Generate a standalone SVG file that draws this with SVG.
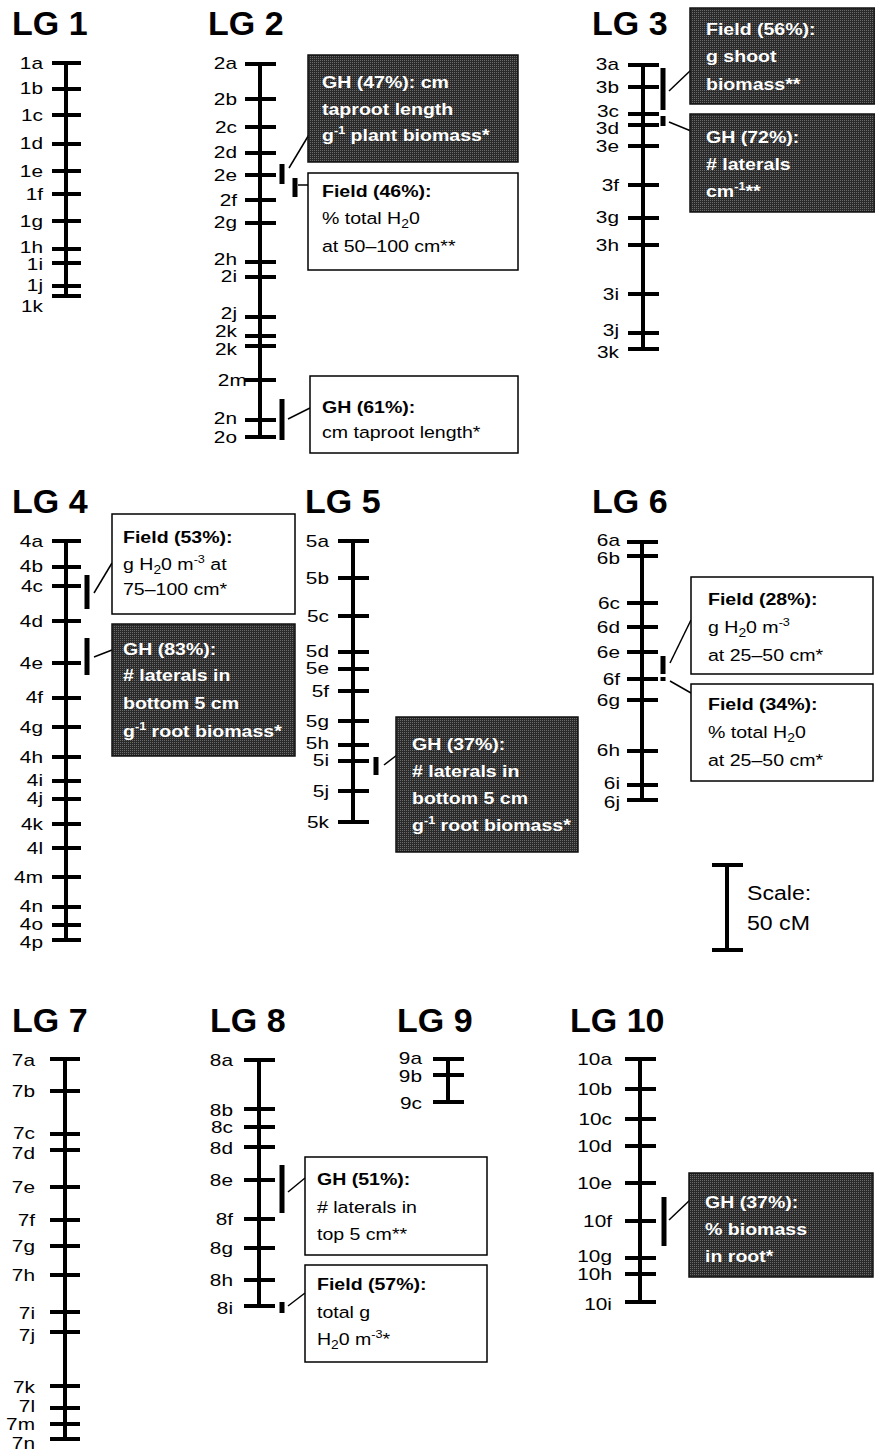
<svg xmlns="http://www.w3.org/2000/svg" width="875" height="1450" viewBox="0 0 875 1450">
<defs>
<pattern id="dith" width="2" height="2" patternUnits="userSpaceOnUse">
<rect width="2" height="2" fill="#2a2a2a"/>
<rect width="1" height="1" fill="#6a6a6a"/>
</pattern>
<style>
.ax{stroke:#000;stroke-width:4;fill:none}
.tk{stroke:#000;stroke-width:4;fill:none}
.q{fill:#000}
.ttl{font-family:"Liberation Sans",Arial,sans-serif;font-weight:bold;font-size:34px;fill:#000}
.lbl{font-family:"Liberation Sans",Arial,sans-serif;font-size:16px;text-anchor:end;fill:#000}
.bw{fill:#fff;stroke:#000;stroke-width:1.5}
.bd{fill:url(#dith);stroke:#111;stroke-width:1.5}
.tw{font-family:"Liberation Sans",Arial,sans-serif;font-size:17px;fill:#000}
.td{font-family:"Liberation Sans",Arial,sans-serif;font-size:17px;font-weight:bold;fill:#fff}
.b{font-weight:bold}
.cn{stroke:#000;stroke-width:1.5;fill:none}
.sc{font-family:"Liberation Sans",Arial,sans-serif;font-size:21px;fill:#000}
</style>
</defs>
<rect width="875" height="1450" fill="#fff"/>

<g id="LG1">
<text class="ttl" x="12" y="35">LG 1</text>
<path class="ax" d="M66 63V296"/>
<path class="tk" d="M52 63H81M52 89H81M52 115H81M52 144H81M52 171H81M52 194H81M52 221H81M52 249H81M52 263H81M52 286H81M52 296H81"/>
<g class="lbl" transform="translate(43,0) scale(1.3,1)">
<text x="0" y="69">1a</text><text x="0" y="94">1b</text><text x="0" y="121">1c</text><text x="0" y="149">1d</text><text x="0" y="177">1e</text><text x="0" y="200">1f</text><text x="0" y="227">1g</text><text x="0" y="253">1h</text><text x="0" y="270">1i</text><text x="0" y="291">1j</text><text x="0" y="312">1k</text>
</g>
</g>

<g id="LG2">
<text class="ttl" x="208" y="35">LG 2</text>
<path class="ax" d="M260 64V437"/>
<path class="tk" d="M245 64H276M245 99H276M245 127H276M245 153H276M245 175H276M245 200H276M245 223H276M245 262H276M245 277H276M245 317H276M245 336H276M245 346H276M245 380H276M245 420H276M245 437H276"/>
<g class="lbl" transform="translate(237,0) scale(1.3,1)">
<text x="0" y="69">2a</text><text x="0" y="105">2b</text><text x="0" y="133">2c</text><text x="0" y="158">2d</text><text x="0" y="181">2e</text><text x="0" y="206">2f</text><text x="0" y="228">2g</text><text x="0" y="265">2h</text><text x="0" y="282">2i</text><text x="0" y="319">2j</text><text x="0" y="337">2k</text><text x="0" y="355">2k</text><text x="7.5" y="386">2m</text><text x="0" y="424">2n</text><text x="0" y="443">2o</text>
</g>
<rect class="q" x="279.5" y="164" width="5" height="20"/>
<rect class="q" x="292.5" y="178" width="5" height="19"/>
<rect class="q" x="279.5" y="399" width="5" height="41"/>
</g>

<g id="LG3">
<text class="ttl" x="592" y="35">LG 3</text>
<path class="ax" d="M643 65V349"/>
<path class="tk" d="M628 65H659M628 87H659M628 114H659M628 125H659M628 146H659M628 185H659M628 218H659M628 245H659M628 294H659M628 333H659M628 349H659"/>
<g class="lbl" transform="translate(619,0) scale(1.3,1)">
<text x="0" y="70">3a</text><text x="0" y="93">3b</text><text x="0" y="117">3c</text><text x="0" y="134">3d</text><text x="0" y="152">3e</text><text x="0" y="191">3f</text><text x="0" y="223">3g</text><text x="0" y="251">3h</text><text x="0" y="300">3i</text><text x="0" y="336">3j</text><text x="0" y="358">3k</text>
</g>
<rect class="q" x="660.5" y="68" width="5" height="42"/>
<rect class="q" x="660.5" y="116" width="5" height="10"/>
</g>

<g id="LG4">
<text class="ttl" x="12" y="513">LG 4</text>
<path class="ax" d="M66 541V940"/>
<path class="tk" d="M52 541H81M52 567H81M52 586H81M52 621H81M52 663H81M52 698H81M52 727H81M52 757H81M52 781H81M52 799H81M52 824H81M52 848H81M52 877H81M52 907H81M52 925H81M52 940H81"/>
<g class="lbl" transform="translate(43,0) scale(1.3,1)">
<text x="0" y="547">4a</text><text x="0" y="572">4b</text><text x="0" y="592">4c</text><text x="0" y="627">4d</text><text x="0" y="669">4e</text><text x="0" y="703">4f</text><text x="0" y="733">4g</text><text x="0" y="763">4h</text><text x="0" y="786">4i</text><text x="0" y="804">4j</text><text x="0" y="830">4k</text><text x="0" y="854">4l</text><text x="0" y="883">4m</text><text x="0" y="912">4n</text><text x="0" y="930">4o</text><text x="0" y="948">4p</text>
</g>
<rect class="q" x="84.5" y="575" width="5" height="34"/>
<rect class="q" x="84.5" y="638" width="5" height="37"/>
</g>

<g id="LG5">
<text class="ttl" x="305" y="513">LG 5</text>
<path class="ax" d="M353 541V822"/>
<path class="tk" d="M338 541H369M338 578H369M338 616H369M338 652H369M338 669H369M338 691H369M338 721H369M338 745H369M338 761H369M338 791H369M338 822H369"/>
<g class="lbl" transform="translate(329,0) scale(1.3,1)">
<text x="0" y="547">5a</text><text x="0" y="584">5b</text><text x="0" y="622">5c</text><text x="0" y="657">5d</text><text x="0" y="674">5e</text><text x="0" y="697">5f</text><text x="0" y="727">5g</text><text x="0" y="749">5h</text><text x="0" y="766">5i</text><text x="0" y="797">5j</text><text x="0" y="828">5k</text>
</g>
<rect class="q" x="373.5" y="757" width="5" height="18"/>
</g>

<g id="LG6">
<text class="ttl" x="592" y="513">LG 6</text>
<path class="ax" d="M642 542V800"/>
<path class="tk" d="M627 542H658M627 556H658M627 603H658M627 627H658M627 652H658M627 679H658M627 700H658M627 751H658M627 785H658M627 800H658"/>
<g class="lbl" transform="translate(620,0) scale(1.3,1)">
<text x="0" y="546">6a</text><text x="0" y="564">6b</text><text x="0" y="609">6c</text><text x="0" y="633">6d</text><text x="0" y="658">6e</text><text x="0" y="685">6f</text><text x="0" y="706">6g</text><text x="0" y="756">6h</text><text x="0" y="789">6i</text><text x="0" y="808">6j</text>
</g>
<rect class="q" x="660.5" y="656" width="5" height="18"/>
<rect class="q" x="660.5" y="677" width="5" height="4"/>
</g>

<g id="scale">
<path class="ax" d="M727 865V950"/>
<path class="tk" d="M712 865H743M712 950H743"/>
<g class="sc" transform="translate(747,0) scale(1.1,1)">
<text x="0" y="900">Scale:</text>
<text x="0" y="930">50 cM</text>
</g>
</g>

<g id="LG7">
<text class="ttl" x="12" y="1032">LG 7</text>
<path class="ax" d="M65 1059V1439"/>
<path class="tk" d="M50 1059H80M50 1091H80M50 1134H80M50 1150H80M50 1187H80M50 1220H80M50 1246H80M50 1275H80M50 1312H80M50 1332H80M50 1386H80M50 1408H80M50 1424H80M50 1439H80"/>
<g class="lbl" transform="translate(35,0) scale(1.3,1)">
<text x="0" y="1066">7a</text><text x="0" y="1097">7b</text><text x="0" y="1139">7c</text><text x="0" y="1159">7d</text><text x="0" y="1193">7e</text><text x="0" y="1226">7f</text><text x="0" y="1252">7g</text><text x="0" y="1281">7h</text><text x="0" y="1319">7i</text><text x="0" y="1341">7j</text><text x="0" y="1393">7k</text><text x="0" y="1412">7l</text><text x="0" y="1430">7m</text><text x="0" y="1449">7n</text>
</g>
</g>

<g id="LG8">
<text class="ttl" x="210" y="1032">LG 8</text>
<path class="ax" d="M259 1060V1306"/>
<path class="tk" d="M244 1060H275M244 1109H275M244 1127H275M244 1147H275M244 1180H275M244 1219H275M244 1248H275M244 1280H275M244 1306H275"/>
<g class="lbl" transform="translate(233,0) scale(1.3,1)">
<text x="0" y="1116">8b</text><text x="0" y="1066">8a</text><text x="0" y="1133">8c</text><text x="0" y="1154">8d</text><text x="0" y="1186">8e</text><text x="0" y="1225">8f</text><text x="0" y="1254">8g</text><text x="0" y="1286">8h</text><text x="0" y="1314">8i</text>
</g>
<rect class="q" x="279.5" y="1165" width="5" height="48"/>
<rect class="q" x="279.5" y="1302" width="5" height="11"/>
</g>

<g id="LG9">
<text class="ttl" x="397" y="1032">LG 9</text>
<path class="ax" d="M448 1059V1102"/>
<path class="tk" d="M433 1059H464M433 1075H464M433 1102H464"/>
<g class="lbl" transform="translate(422,0) scale(1.3,1)">
<text x="0" y="1064">9a</text><text x="0" y="1082">9b</text><text x="0" y="1109">9c</text>
</g>
</g>

<g id="LG10">
<text class="ttl" x="570" y="1032">LG 10</text>
<path class="ax" d="M640 1059V1302"/>
<path class="tk" d="M625 1059H656M625 1089H656M625 1119H656M625 1146H656M625 1183H656M625 1221H656M625 1258H656M625 1274H656M625 1302H656"/>
<g class="lbl" transform="translate(612,0) scale(1.3,1)">
<text x="0" y="1065">10a</text><text x="0" y="1095">10b</text><text x="0" y="1125">10c</text><text x="0" y="1152">10d</text><text x="0" y="1189">10e</text><text x="0" y="1227">10f</text><text x="0" y="1262">10g</text><text x="0" y="1280">10h</text><text x="0" y="1310">10i</text>
</g>
<rect class="q" x="661.5" y="1197" width="5" height="49"/>
</g>

<g id="connectors">
<line class="cn" x1="289" y1="168" x2="310" y2="133"/>
<line class="cn" x1="298" y1="185" x2="309" y2="185"/>
<line class="cn" x1="288" y1="419" x2="310" y2="408"/>
<line class="cn" x1="669" y1="91" x2="691" y2="70"/>
<line class="cn" x1="669" y1="122" x2="691" y2="131"/>
<line class="cn" x1="94" y1="593" x2="112" y2="563"/>
<line class="cn" x1="94" y1="657" x2="112" y2="650"/>
<line class="cn" x1="384" y1="765" x2="397" y2="755"/>
<line class="cn" x1="670" y1="663" x2="691" y2="620"/>
<line class="cn" x1="670" y1="681" x2="691" y2="693"/>
<line class="cn" x1="288" y1="1192" x2="305" y2="1178"/>
<line class="cn" x1="288" y1="1306" x2="305" y2="1293"/>
<line class="cn" x1="669" y1="1220" x2="690" y2="1200"/>
</g>

<g id="box-lg2-gh47">
<rect class="bd" x="308" y="55" width="210" height="107"/>
<g class="td" transform="translate(322,0) scale(1.15,1)">
<text x="0" y="88">GH (47%): cm</text>
<text x="0" y="115">taproot length</text>
<text x="0" y="141">g<tspan font-size="11" dy="-7">-1</tspan><tspan dy="7"> plant biomass*</tspan></text>
</g>
</g>

<g id="box-lg2-field46">
<rect class="bw" x="308" y="173" width="210" height="97"/>
<g class="tw" transform="translate(322,0) scale(1.15,1)">
<text x="0" y="197" class="b">Field (46%):</text>
<text x="0" y="224">% total H<tspan font-size="12" dy="4">2</tspan><tspan dy="-4">0</tspan></text>
<text x="0" y="252">at 50–100 cm**</text>
</g>
</g>

<g id="box-lg2-gh61">
<rect class="bw" x="310" y="376" width="208" height="77"/>
<g class="tw" transform="translate(322,0) scale(1.15,1)">
<text x="0" y="413" class="b">GH (61%):</text>
<text x="0" y="438">cm taproot length*</text>
</g>
</g>

<g id="box-lg3-field56">
<rect class="bd" x="690" y="8" width="185" height="96"/>
<g class="td" transform="translate(706,0) scale(1.15,1)">
<text x="0" y="35">Field (56%):</text>
<text x="0" y="62">g shoot</text>
<text x="0" y="90">biomass**</text>
</g>
</g>

<g id="box-lg3-gh72">
<rect class="bd" x="690" y="114" width="185" height="98"/>
<g class="td" transform="translate(706,0) scale(1.15,1)">
<text x="0" y="143">GH (72%):</text>
<text x="0" y="170"># laterals</text>
<text x="0" y="197">cm<tspan font-size="11" dy="-7">-1</tspan><tspan dy="7">**</tspan></text>
</g>
</g>

<g id="box-lg4-field53">
<rect class="bw" x="112" y="514" width="183" height="100"/>
<g class="tw" transform="translate(123,0) scale(1.15,1)">
<text x="0" y="543" class="b">Field (53%):</text>
<text x="0" y="570">g H<tspan font-size="12" dy="4">2</tspan><tspan dy="-4">0 m</tspan><tspan font-size="11" dy="-7">-3</tspan><tspan dy="7"> at</tspan></text>
<text x="0" y="595">75–100 cm*</text>
</g>
</g>

<g id="box-lg4-gh83">
<rect class="bd" x="112" y="624" width="183" height="132"/>
<g class="td" transform="translate(123,0) scale(1.15,1)">
<text x="0" y="655">GH (83%):</text>
<text x="0" y="681"># laterals in</text>
<text x="0" y="709">bottom 5 cm</text>
<text x="0" y="737">g<tspan font-size="11" dy="-7">-1</tspan><tspan dy="7"> root biomass*</tspan></text>
</g>
</g>

<g id="box-lg5-gh37">
<rect class="bd" x="396" y="717" width="182" height="135"/>
<g class="td" transform="translate(412,0) scale(1.15,1)">
<text x="0" y="750">GH (37%):</text>
<text x="0" y="777"># laterals in</text>
<text x="0" y="804">bottom 5 cm</text>
<text x="0" y="831">g<tspan font-size="11" dy="-7">-1</tspan><tspan dy="7"> root biomass*</tspan></text>
</g>
</g>

<g id="box-lg6-field28">
<rect class="bw" x="691" y="577" width="182" height="97"/>
<g class="tw" transform="translate(708,0) scale(1.15,1)">
<text x="0" y="605" class="b">Field (28%):</text>
<text x="0" y="633">g H<tspan font-size="12" dy="4">2</tspan><tspan dy="-4">0 m</tspan><tspan font-size="11" dy="-7">-3</tspan></text>
<text x="0" y="661">at 25–50 cm*</text>
</g>
</g>

<g id="box-lg6-field34">
<rect class="bw" x="691" y="684" width="182" height="97"/>
<g class="tw" transform="translate(708,0) scale(1.15,1)">
<text x="0" y="710" class="b">Field (34%):</text>
<text x="0" y="738">% total H<tspan font-size="12" dy="4">2</tspan><tspan dy="-4">0</tspan></text>
<text x="0" y="766">at 25–50 cm*</text>
</g>
</g>

<g id="box-lg8-gh51">
<rect class="bw" x="305" y="1157" width="182" height="98"/>
<g class="tw" transform="translate(317,0) scale(1.15,1)">
<text x="0" y="1185" class="b">GH (51%):</text>
<text x="0" y="1213"># laterals in</text>
<text x="0" y="1240">top 5 cm**</text>
</g>
</g>

<g id="box-lg8-field57">
<rect class="bw" x="305" y="1265" width="182" height="97"/>
<g class="tw" transform="translate(317,0) scale(1.15,1)">
<text x="0" y="1290" class="b">Field (57%):</text>
<text x="0" y="1318">total g</text>
<text x="0" y="1345">H<tspan font-size="12" dy="4">2</tspan><tspan dy="-4">0 m</tspan><tspan font-size="11" dy="-7">-3</tspan><tspan dy="7">*</tspan></text>
</g>
</g>

<g id="box-lg10-gh37">
<rect class="bd" x="689" y="1173" width="184" height="104"/>
<g class="td" transform="translate(705,0) scale(1.15,1)">
<text x="0" y="1208">GH (37%):</text>
<text x="0" y="1235">% biomass</text>
<text x="0" y="1262">in root*</text>
</g>
</g>
</svg>
